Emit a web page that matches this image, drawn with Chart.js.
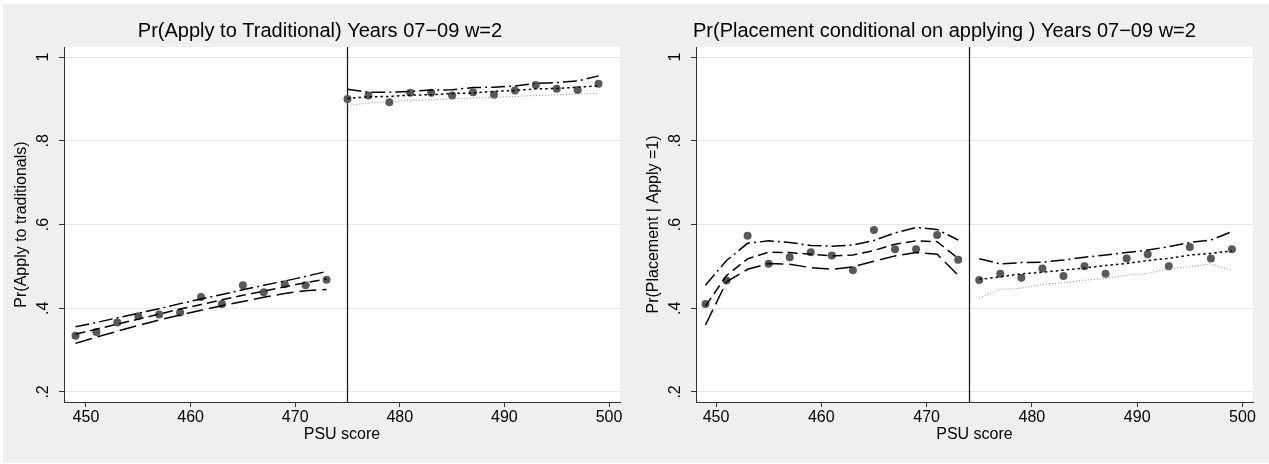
<!DOCTYPE html>
<html>
<head>
<meta charset="utf-8">
<script src="https://cdn.jsdelivr.net/npm/chart.js@4/dist/chart.umd.min.js"></script>
<style>
  html, body { margin: 0; padding: 0; background: #ffffff; }
  body { width: 1269px; height: 464px; position: relative; overflow: hidden; }
  #bg { position: absolute; left: 3px; top: 4px; width: 1266px; height: 459px; background: #efefef; }
  canvas { position: absolute; top: 0; }
  #c1 { left: 0; }
  #c2 { left: 636px; }
</style>
</head>
<body>
<div id="bg"></div>
<canvas id="c1" width="636" height="464"></canvas>
<canvas id="c2" width="633" height="464"></canvas>
<script>
// ---------- data ----------
const xBelow = [449, 451, 453, 455, 457, 459, 461, 463, 465, 467, 469, 471, 473];
const xAbove = [475, 477, 479, 481, 483, 485, 487, 489, 491, 493, 495, 497, 499];
const xTicks = [450, 460, 470, 480, 490, 500];
const xTickLabels = ['450', '460', '470', '480', '490', '500'];
const yTicks = [0.2, 0.4, 0.6, 0.8, 1.0];
const yTickLabels = ['.2', '.4', '.6', '.8', '1'];

// Panel 1: Pr(Apply to Traditional)
const applyCutoff = 475;
const applyPtsBelow = [0.334, 0.343, 0.366, 0.381, 0.385, 0.390, 0.427, 0.410, 0.455, 0.438, 0.457, 0.455, 0.468];
const applyFitBelow = [0.338, 0.350, 0.362, 0.374, 0.386, 0.398, 0.409, 0.420, 0.431, 0.441, 0.451, 0.461, 0.470];
const applyHiBelow  = [0.356, 0.366, 0.377, 0.388, 0.399, 0.411, 0.422, 0.433, 0.444, 0.455, 0.465, 0.476, 0.488];
const applyLoBelow  = [0.316, 0.331, 0.345, 0.359, 0.372, 0.384, 0.395, 0.406, 0.416, 0.426, 0.435, 0.442, 0.445];
const applyPtsAbove = [0.900, 0.908, 0.892, 0.915, 0.915, 0.908, 0.916, 0.910, 0.920, 0.933, 0.924, 0.921, 0.936];
const applyFitAbove = [0.901, 0.905, 0.906, 0.909, 0.910, 0.913, 0.914, 0.918, 0.920, 0.924, 0.925, 0.928, 0.931];
const applyHiAbove  = [0.923, 0.916, 0.916, 0.918, 0.921, 0.922, 0.927, 0.928, 0.931, 0.937, 0.939, 0.943, 0.955];
const applyLoAbove  = [0.884, 0.890, 0.894, 0.896, 0.898, 0.900, 0.902, 0.904, 0.906, 0.908, 0.910, 0.912, 0.913];

// Panel 2: Pr(Placement conditional on applying)
const placeCutoff = 474;
const placePtsBelow = [0.410, 0.466, 0.573, 0.506, 0.522, 0.534, 0.526, 0.491, 0.587, 0.541, 0.541, 0.575, 0.516];
const placeFitBelow = [0.405, 0.478, 0.518, 0.534, 0.533, 0.529, 0.525, 0.527, 0.538, 0.553, 0.561, 0.559, 0.519];
const placeHiBelow  = [0.455, 0.514, 0.555, 0.561, 0.557, 0.550, 0.548, 0.551, 0.562, 0.580, 0.593, 0.588, 0.563];
const placeLoBelow  = [0.360, 0.463, 0.493, 0.507, 0.505, 0.497, 0.493, 0.499, 0.512, 0.525, 0.533, 0.529, 0.479];
const placePtsAbove = [0.4675, 0.4825, 0.473, 0.495, 0.477, 0.500, 0.4825, 0.519, 0.529, 0.500, 0.546, 0.519, 0.541];
const placeFitAbove = [0.469, 0.475, 0.482, 0.486, 0.491, 0.496, 0.502, 0.507, 0.514, 0.519, 0.527, 0.531, 0.537];
const placeHiAbove  = [0.518, 0.506, 0.509, 0.510, 0.515, 0.522, 0.527, 0.533, 0.539, 0.547, 0.557, 0.563, 0.583];
const placeLoAbove  = [0.424, 0.445, 0.448, 0.457, 0.461, 0.467, 0.471, 0.479, 0.483, 0.495, 0.499, 0.506, 0.490];

// ---------- rendering ----------
const FONT = '"Liberation Sans", Arial, Helvetica, sans-serif';
const zip = (xs, ys) => xs.map((x, i) => ({ x: x, y: ys[i] }));

function lineDs(xs, ys, dash, color, width) {
  return {
    type: 'line', data: zip(xs, ys), borderColor: color, borderWidth: width,
    borderDash: dash, pointRadius: 0, fill: false, tension: 0, order: 0
  };
}

function makePanel(id, p) {
  const ctx = document.getElementById(id).getContext('2d');
  const deco = {
    id: 'deco' + id,
    beforeDraw(chart) {
      const c = chart.ctx, a = chart.chartArea;
      c.save();
      c.fillStyle = '#ffffff';
      c.fillRect(a.left, a.top, a.right - a.left, a.bottom - a.top);
      c.restore();
    },
    beforeDatasetsDraw(chart) {
      const c = chart.ctx, a = chart.chartArea, xs = chart.scales.x;
      const px = Math.round(xs.getPixelForValue(p.cutoff)) + 0.5;
      c.save();
      c.strokeStyle = '#111';
      c.lineWidth = 1.2;
      c.beginPath();
      c.moveTo(px, a.top);
      c.lineTo(px, a.bottom);
      c.stroke();
      c.restore();
    },
    afterDraw(chart) {
      const c = chart.ctx, a = chart.chartArea, ys = chart.scales.y;
      c.save();
      c.fillStyle = '#000';
      // y tick labels (rotated)
      c.font = '16px ' + FONT;
      c.textAlign = 'center';
      c.textBaseline = 'middle';
      yTicks.forEach((v, i) => {
        c.save();
        c.translate(a.left - 20, ys.getPixelForValue(v));
        c.rotate(-Math.PI / 2);
        c.fillText(yTickLabels[i], 0, 0);
        c.restore();
      });
      // y axis title
      c.save();
      c.translate(a.left - 42, (a.top + a.bottom) / 2);
      c.rotate(-Math.PI / 2);
      c.fillText(p.yTitle, 0, 0);
      c.restore();
      // x axis title
      c.fillText('PSU score', (a.left + a.right) / 2, 435);
      // main title
      c.font = '20px ' + FONT;
      c.textBaseline = 'alphabetic';
      c.textAlign = p.titleAlign;
      c.fillText(p.title, p.titleX, 37);
      c.restore();
    }
  };

  return new Chart(ctx, {
    type: 'scatter',
    data: {
      datasets: [
        { type: 'scatter', data: zip(xBelow, p.ptsBelow), backgroundColor: '#595959', borderColor: '#595959', pointRadius: 4, borderWidth: 0, order: 10 },
        { type: 'scatter', data: zip(xAbove, p.ptsAbove), backgroundColor: '#595959', borderColor: '#595959', pointRadius: 4, borderWidth: 0, order: 10 },
        lineDs(xBelow, p.fitBelow, [10, 5], '#000', 1.5),
        lineDs(xBelow, p.hiBelow, [14, 4, 2, 4], '#000', 1.5),
        lineDs(xBelow, p.loBelow, [17, 6], '#000', 1.5),
        lineDs(xAbove, p.fitAbove, [2.5, 3], '#000', 1.5),
        lineDs(xAbove, p.hiAbove, [14, 4, 2, 4], '#000', 1.5),
        lineDs(xAbove, p.loAbove, [1, 2], '#8a8a8a', 1)
      ]
    },
    options: {
      responsive: false,
      animation: false,
      devicePixelRatio: 1,
      layout: { padding: { top: 47, right: 16, left: 0, bottom: 0 } },
      plugins: { legend: { display: false }, tooltip: { enabled: false }, title: { display: false } },
      scales: {
        x: {
          type: 'linear', position: 'bottom', min: p.xMin, max: p.xMax,
          afterFit(s) { s.height = 62; },
          afterBuildTicks(s) { s.ticks = xTicks.map(v => ({ value: v })); },
          grid: { drawOnChartArea: false, drawTicks: true, tickLength: 5, tickColor: '#333', tickWidth: 1 },
          border: { color: '#333', width: 1 },
          ticks: {
            font: { size: 16, family: FONT }, color: '#000', padding: 1, maxRotation: 0, minRotation: 0, autoSkip: false,
            callback: (v) => { const i = xTicks.indexOf(v); return i >= 0 ? xTickLabels[i] : ''; }
          }
        },
        y: {
          type: 'linear', position: 'left', min: 0.176, max: 1.024,
          afterFit(s) { s.width = p.axisW; },
          afterBuildTicks(s) { s.ticks = yTicks.map(v => ({ value: v })); },
          grid: { color: '#e6e6e6', lineWidth: 1, drawTicks: true, tickLength: 5, tickColor: '#333', tickWidth: 1 },
          border: { color: '#333', width: 1 },
          ticks: { display: false }
        }
      }
    },
    plugins: [deco]
  });
}

makePanel('c1', {
  cutoff: applyCutoff, xMin: 447.9, xMax: 501.05, axisW: 64,
  title: 'Pr(Apply to Traditional) Years 07\u221209 w=2', titleAlign: 'center', titleX: 320,
  yTitle: 'Pr(Apply to traditionals)',
  ptsBelow: applyPtsBelow, fitBelow: applyFitBelow, hiBelow: applyHiBelow, loBelow: applyLoBelow,
  ptsAbove: applyPtsAbove, fitAbove: applyFitAbove, hiAbove: applyHiAbove, loAbove: applyLoAbove
});

makePanel('c2', {
  cutoff: placeCutoff, xMin: 448.1, xMax: 501.0, axisW: 60,
  title: 'Pr(Placement conditional on applying ) Years 07\u221209 w=2', titleAlign: 'left', titleX: 57,
  yTitle: 'Pr(Placement | Apply =1)',
  ptsBelow: placePtsBelow, fitBelow: placeFitBelow, hiBelow: placeHiBelow, loBelow: placeLoBelow,
  ptsAbove: placePtsAbove, fitAbove: placeFitAbove, hiAbove: placeHiAbove, loAbove: placeLoAbove
});
</script>
</body>
</html>
